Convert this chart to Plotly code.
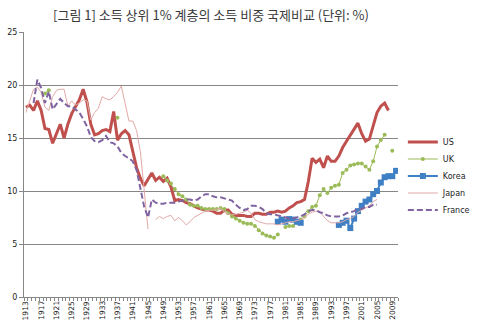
import plotly.graph_objects as go

years = list(range(1913, 2011))

us = [17.9, 18.1, 17.6, 18.5, 17.6, 15.9, 15.8, 14.5, 15.4, 16.3,
      15.0, 16.3, 17.3, 17.9, 18.6, 19.6, 18.4, 16.3, 15.3, 15.4,
      15.7, 15.8, 15.6, 17.5, 14.8, 15.4, 15.7, 15.3, 13.8, 12.2,
      11.2, 10.5, 11.1, 11.7, 11.0, 11.3, 10.9, 11.2, 10.4, 9.1,
      9.2, 9.1, 8.9, 8.8, 8.6, 8.4, 8.3, 8.2, 8.2, 8.1,
      7.9, 7.9, 8.2, 8.2, 7.8, 7.7, 7.7, 7.7, 7.6, 7.6,
      7.9, 7.9, 7.8, 7.8, 8.0, 8.0, 8.1, 8.0, 8.1, 8.4,
      8.6, 8.9, 9.0, 9.2, 10.9, 13.1, 12.7, 13.0, 12.2, 13.3,
      12.8, 12.8, 13.3, 14.1, 14.7, 15.3, 15.9, 16.4, 15.4, 14.7,
      14.9, 16.1, 17.4, 18.0, 18.3, 17.6, None, None]

uk = [None, None, None, None, None, 19.2, 19.5, None, None, None,
      None, None, None, None, None, None, None, None, None, None,
      None, None, None, None, 16.9, None, None, None, None, None,
      None, None, None, None, None, None, 11.4, 11.0, 10.7, 10.2,
      9.7, 9.5, 9.2, 8.7, 8.6, 8.6, 8.4, 8.3, 8.3, 8.3,
      8.3, 8.4, 8.3, 7.9, 7.6, 7.4, 7.2, 7.0, 6.9, 6.9,
      6.7, 6.3, 6.0, 5.8, 5.7, 5.6, 5.9, None, 6.6, 6.7,
      6.7, 7.0, 7.3, 7.6, 8.1, 8.5, 8.6, 9.6, 10.2, 9.8,
      10.3, 10.5, 10.6, 11.7, 12.0, 12.4, 12.5, 12.6, 12.6, 12.3,
      12.0, 12.8, 14.2, 14.8, 15.3, None, 13.8, None]

korea = [None] * 66 + [7.1, 7.3, 7.1, 7.35, 7.3, 7.1, 7.0,
                       None, None, None, None, None, None, None, None, None,
                       6.8, 7.0, 7.2, 6.5, 7.4, 8.1, 8.6, 9.0, 9.2, 9.7,
                       10.0, 10.8, 11.3, 11.4, 11.4, 11.9]

japan = [17.4, 18.5, 19.6, 19.8, 19.3, 17.9, 17.6, 18.9, 19.5, 19.6,
         19.6, 18.0, 18.5, 18.1, 18.3, 18.6, 18.5, 16.7, 17.4, 17.8,
         18.9, 18.7, 18.6, 18.9, 19.3, 19.9, 18.3, 16.6, 16.6, 15.7,
         13.7, 9.8, 6.4, None, 7.3, 7.6, 7.4, 7.6, 7.7, 7.2,
         7.5, 7.2, 6.8, 7.1, 7.5, 7.7, 7.9, 8.1, 8.2, 8.2,
         8.3, 8.4, 8.0, 7.8, 7.8, 7.8, 7.9, 8.0, 8.2, 7.9,
         7.3, 7.1, 7.0, 6.9, 6.9, 6.9, 6.8, 6.9, 7.0, 7.1,
         7.1, 7.2, 7.3, 7.5, 7.8, 8.0, 8.1, 8.0, 7.6, 7.2,
         7.0, 7.0, 7.0, 7.1, 7.3, 7.4, 7.6, 8.0, 8.2, 8.4,
         8.6, 9.0, 9.2, None, None, None, None, None]

france = [None, None, 18.3, 20.5, 19.7, 18.3, 19.4, 17.7, 18.2, 18.7,
          18.3, 18.0, 18.0, 17.7, 17.4, 16.8, 16.1, 15.1, 14.7, 14.6,
          14.8, 15.2, 14.6, 14.5, 14.2, 13.6, 13.3, 13.1, 12.8, 12.0,
          10.3, 8.5, 7.5, 9.2, 8.9, 8.8, 8.8, 8.9, 8.9, 8.9,
          9.0, 9.1, 9.2, 9.2, 9.1, 9.2, 9.5, 9.7, 9.7, 9.5,
          9.4, 9.4, 9.3, 9.2, 9.1, 8.7, 8.4, 8.2, 8.3, 8.6,
          8.6, 8.5, 8.3, 7.9, 7.8, 7.8, 7.7, 7.6, 7.5, 7.4,
          7.4, 7.5, 7.6, 7.8, 8.1, 8.2, 8.2, 8.0, 7.9, 7.7,
          7.6, 7.6, 7.6, 7.7, 7.9, 8.0, 8.1, 8.3, 8.3, 8.5,
          8.5, 8.7, 8.7, None, None, None, None, None]

label_years = list(range(1913, 2011, 4))
title_text = "[그림 1] 소득 상위 1% 계층의 소득 비중 국제비교 (단위: %)"

W, H = 487, 330
ML, MR, MT, MB = 24, 76, 32, 33
plot_h = H - MT - MB

series = [
    ("US", us, dict(mode="lines", line=dict(color="#C0504D", width=3))),
    ("UK", uk, dict(mode="lines+markers", line=dict(color="#9BBB59", width=1),
                    marker=dict(color="#9BBB59", size=4, symbol="circle"))),
    ("Korea", korea, dict(mode="lines+markers", line=dict(color="#3F7FC4", width=2),
                          marker=dict(color="#3F7FC4", size=6, symbol="square"))),
    ("Japan", japan, dict(mode="lines", line=dict(color="#E2A9A7", width=1))),
    ("France", france, dict(mode="lines", line=dict(color="#8064A2", width=2, dash="6px,3px"))),
]
legend_py = [142, 159, 176, 193, 210]

fig = go.Figure()
legend_font = dict(family="DejaVu Sans", size=8, color="#222222")
layout_legends = {}
for i, ((name, vals, style), py) in enumerate(zip(series, legend_py)):
    key = "legend" if i == 0 else f"legend{i + 1}"
    fig.add_trace(go.Scatter(x=years, y=vals, name=name, legend=key, **style))
    layout_legends[key] = dict(
        x=1.013, y=(H - MB - py) / plot_h, xanchor="left", yanchor="middle",
        font=legend_font, itemwidth=30, bgcolor="rgba(0,0,0,0)",
        borderwidth=0)

# x-axis year labels as annotations anchored just below the axis
for yr in label_years:
    fig.add_annotation(x=yr, xref="x", y=0, yref="paper", yshift=-3,
                       text=str(yr), textangle=-90, showarrow=False,
                       xanchor="center", yanchor="top", borderpad=0,
                       font=dict(family="DejaVu Sans", size=7.5, color="#222222"))

grid_c = "#878787"

fig.update_layout(
    width=W, height=H,
    margin=dict(l=ML, r=MR, t=MT, b=MB),
    paper_bgcolor="white", plot_bgcolor="white",
    title=dict(text=title_text, x=0.5, xref="paper", xanchor="center",
               y=1 - 15 / H, yref="container", yanchor="middle",
               font=dict(family="Noto Sans CJK KR", size=13, color="#3a3a3a")),
    showlegend=True,
    xaxis=dict(range=[1912.5, 2010.5], showticklabels=False,
               ticks="", showgrid=False, zeroline=False, automargin=False,
               showline=True, linecolor=grid_c, linewidth=1,
               minor=dict(tickmode="linear", tick0=1912.5, dtick=1,
                          ticks="outside", ticklen=3, tickcolor=grid_c,
                          showgrid=False)),
    yaxis=dict(range=[0, 25], dtick=5, tick0=0, showgrid=True, gridcolor=grid_c,
               gridwidth=1, zeroline=False, showline=True, linecolor=grid_c,
               automargin=False,
               ticks="outside", ticklen=4, tickcolor=grid_c,
               tickfont=dict(family="DejaVu Sans", size=8, color="#222222")),
    **layout_legends,
)

fig.write_html("out.html")
